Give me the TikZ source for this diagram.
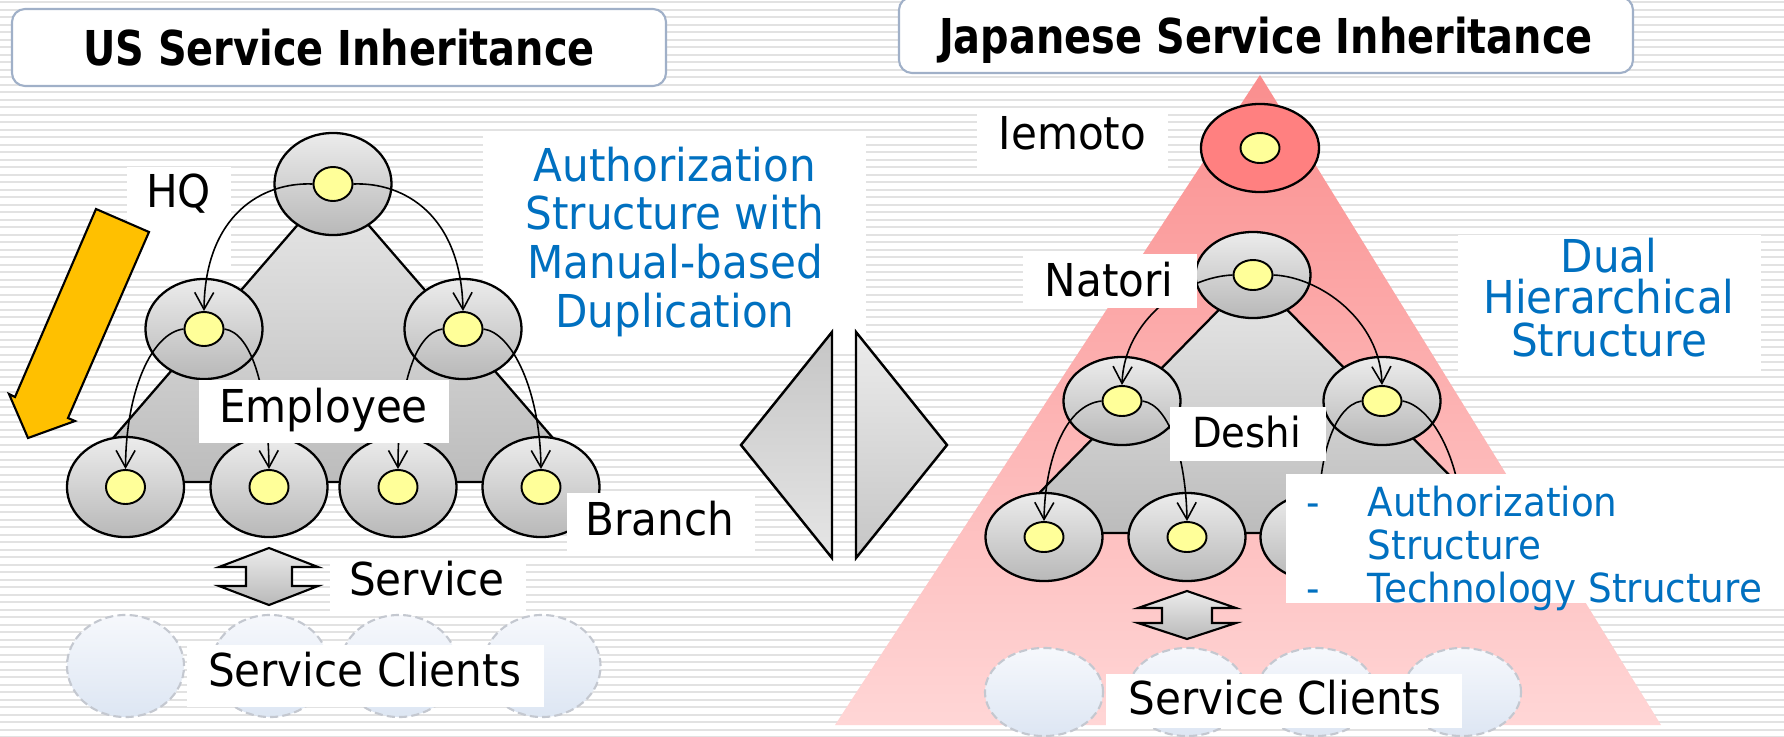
\documentclass[tikz,border=0pt]{standalone}
\usepackage{fontspec}
\setmainfont{DejaVu Sans}[FakeStretch=0.93]
\newfontfamily\headfont{DejaVu Sans}[FakeStretch=0.83]
\usetikzlibrary{shapes.geometric,arrows.meta}

\definecolor{stripegray}{RGB}{226,226,226}
\definecolor{titleedge}{RGB}{160,176,200}
\definecolor{dotyellow}{RGB}{255,255,153}
\definecolor{nodetop}{RGB}{236,236,236}
\definecolor{nodebot}{RGB}{184,184,184}
\definecolor{tritop}{RGB}{232,232,232}
\definecolor{tribot}{RGB}{188,188,188}
\definecolor{labelblue}{RGB}{0,112,192}
\definecolor{arrowgold}{RGB}{255,192,0}
\definecolor{pinktop}{RGB}{250,142,142}
\definecolor{pinkbot}{RGB}{255,214,214}
\definecolor{iemotored}{RGB}{255,128,128}
\definecolor{clienttop}{RGB}{246,248,252}
\definecolor{clientbot}{RGB}{221,230,243}
\definecolor{clientedge}{RGB}{196,200,208}

\tikzset{
  member/.style={ellipse, draw=black, line width=0.65pt, top color=nodetop,
    bottom color=nodebot, inner sep=0pt, minimum width=1.17cm, minimum height=1.0cm},
  lowmember/.style={member, minimum height=0.88cm},
  master/.style={ellipse, draw=black, line width=0.65pt, fill=iemotored,
    inner sep=0pt, minimum width=1.18cm, minimum height=0.88cm},
  core/.style={ellipse, draw=black, line width=0.55pt, fill=dotyellow,
    inner sep=0pt, minimum width=0.39cm, minimum height=0.34cm},
  lowcore/.style={core, minimum height=0.30cm},
  client/.style={ellipse, draw=clientedge, line width=0.6pt,
    dash pattern=on 2.3pt off 1.2pt, top color=clienttop, bottom color=clientbot,
    inner sep=0pt, minimum width=1.17cm, minimum height=1.02cm},
  lowclient/.style={client, minimum width=1.18cm, minimum height=0.88cm},
  inherit/.style={line width=0.45pt, -{Straight Barb[length=1.7mm, width=1.9mm]}},
  tree/.style={draw=black, line width=0.65pt, top color=tritop, bottom color=tribot},
  servicearrow/.style={draw=black, line width=0.6pt, top color=nodetop, bottom color=gray!55},
  halfleft/.style={draw=black, line width=0.7pt, top color=gray!45, bottom color=gray!20},
  halfright/.style={draw=black, line width=0.7pt, top color=gray!15, bottom color=gray!45},
  titlebox/.style={draw=titleedge, line width=0.6pt, fill=white, rounded corners=0.13cm},
  titleword/.style={inner sep=0pt, anchor=base,
    font=\headfont\bfseries\fontsize{13.66}{16}\selectfont},
  word/.style={inner sep=0pt, anchor=base, font=\fontsize{12.88}{15}\selectfont},
  blueword/.style={word, text=labelblue},
  smallblue/.style={inner sep=0pt, anchor=base west, text=labelblue,
    font=\fontsize{11.4}{13}\selectfont},
}

\begin{document}
\begin{tikzpicture}[x=0.01cm, y=-0.01cm]
\useasboundingbox (0,0) rectangle (1784,736);
\fill[white] (0,0) rectangle (1784,736);
% pinstripe background
\foreach \k in {0,...,98}
  \draw[draw=stripegray, line width=0.02cm] (0,{2+7.5*\k}) -- (1784,{2+7.5*\k});

% headings
\draw[titlebox] (12,9) rectangle (666,86);
\node[titleword] (ustitle) at (339,65) {US Service Inheritance};
\draw[titlebox] (899,-3) rectangle (1633,73);
\node[titleword] (jptitle) at (1266,53) {Japanese Service Inheritance};

% ---------------- US side ----------------
% plates lying behind the hierarchy
\fill[white] (127,167) rectangle (231,268);
\fill[white] (483,134) rectangle (866,350);

\draw[tree] (333,184) -- (75,482) -- (591,482) -- cycle;
\node[member, minimum height=1.02cm] (hq) at (333,184) {};
\node[member] (emL) at (204,329) {};
\node[member] (emR) at (463,329) {};
\node[member] (br1) at (125.5,487) {};
\node[member] (br2) at (269,487) {};
\node[member] (br3) at (398,487) {};
\node[member] (br4) at (541,487) {};
\foreach \n in {hq,emL,emR,br1,br2,br3,br4}
  \node[core] (\n c) at (\n.center) {};

\draw[inherit] (hqc.west) .. controls (262,182) and (205,215) .. (emLc.north);
\draw[inherit] (hqc.east) .. controls (404,182) and (461,215) .. (emRc.north);
\draw[inherit] (emLc.west) .. controls (152,333) and (126,390) .. (br1c.north);
\draw[inherit] (emLc.east) .. controls (252,333) and (268,390) .. (br2c.north);
\draw[inherit] (emRc.west) .. controls (414,333) and (398,390) .. (br3c.north);
\draw[inherit] (emRc.east) .. controls (512,333) and (540,390) .. (br4c.north);

% clients and service exchange
\node[client] (uscl1) at (125.5,666) {};
\node[client] (uscl2) at (270,666) {};
\node[client] (uscl3) at (399,666) {};
\node[client] (uscl4) at (542,666) {};
\draw[servicearrow] (269,548) -- (318,567) -- (292,567) -- (292,586) -- (318,586)
  -- (269,605) -- (219,586) -- (246,586) -- (246,567) -- (219,567) -- cycle;

% label plates in front
\fill[white] (199,380) rectangle (449,443);
\fill[white] (567,493) rectangle (755,553);
\fill[white] (330,558) rectangle (526,613);
\fill[white] (187,645) rectangle (544,707);

\node[word] (hqlabel) at (178.5,207) {HQ};
\node[word] (emplabel) at (323.5,422) {Employee};
\node[word] (brlabel) at (660,535) {Branch};
\node[word] (svlabel) at (427,595) {Service};
\node[word] (usclients) at (364.5,686) {Service Clients};
\node[blueword] (usnote1) at (675,181) {Authorization};
\node[blueword] (usnote2) at (675,229) {Structure with};
\node[blueword] (usnote3) at (675,278) {Manual-based};
\node[blueword] (usnote4) at (675,327) {Duplication};

% top-down flow arrow
\draw[fill=arrowgold, line width=0.6pt] (96,209) -- (149,232) -- (68,418) -- (75,421)
  -- (28,438) -- (9,394) -- (15,397) -- cycle;

% comparison marker
\draw[halfleft] (832,332) -- (741,445) -- (832,558) -- cycle;
\draw[halfright] (856,332) -- (947,445) -- (856,558) -- cycle;

% ---------------- Japanese side ----------------
\path[top color=pinktop, bottom color=pinkbot] (1260,75) -- (835,725) -- (1661,725) -- cycle;
\node[master] (iemoto) at (1260,148) {};
\node[lowcore] (iemotoc) at (iemoto.center) {};

\draw[tree] (1253,275) -- (1000,533) -- (1506,533) -- cycle;
\node[lowmember, minimum width=1.15cm, minimum height=0.86cm] (natori) at (1253,275) {};
\node[lowmember] (deL) at (1122,401) {};
\node[lowmember] (deR) at (1382,401) {};
\node[lowmember] (ds1) at (1044,537) {};
\node[lowmember] (ds2) at (1187,537) {};
\node[lowmember] (ds3) at (1319,537) {};
\node[lowmember] (ds4) at (1462,537) {};
\foreach \n in {natori,deL,deR,ds1,ds2,ds3,ds4}
  \node[lowcore] (\n c) at (\n.center) {};

\draw[inherit] (natoric.west) .. controls (1185,277) and (1124,320) .. (deLc.north);
\draw[inherit] (natoric.east) .. controls (1320,277) and (1380,320) .. (deRc.north);
\draw[inherit] (deLc.west) .. controls (1065,405) and (1045,460) .. (ds1c.north);
\draw[inherit] (deLc.east) .. controls (1170,405) and (1186,460) .. (ds2c.north);
\draw[inherit] (deRc.west) .. controls (1333,406) and (1318,460) .. (ds3c.north);
\draw[inherit] (deRc.east) .. controls (1432,406) and (1460,460) .. (ds4c.north);

\node[lowclient] (jpcl1) at (1044,692) {};
\node[lowclient] (jpcl2) at (1187,692) {};
\node[lowclient] (jpcl3) at (1316,692) {};
\node[lowclient] (jpcl4) at (1462,692) {};
\draw[servicearrow] (1187,591) -- (1236,608) -- (1212,608) -- (1212,623) -- (1236,623)
  -- (1187,639) -- (1138,623) -- (1162,623) -- (1162,608) -- (1138,608) -- cycle;

% label plates
\fill[white] (977,112) rectangle (1168,168);
\fill[white] (1023,254) rectangle (1197,308);
\fill[white] (1170,407) rectangle (1326,461);
\fill[white] (1458,235) rectangle (1761,376);
\fill[white] (1286,474) rectangle (1790,603);
\fill[white] (1106,674) rectangle (1462,728);

\node[word] (iemotolabel) at (1072.5,149) {Iemoto};
\node[word] (natorilabel) at (1109,296) {Natori};
\node[word, font=\fontsize{11.8}{14}\selectfont] (deshilabel) at (1246.5,447) {Deshi};
\node[word] (jpclients) at (1285,714) {Service Clients};
\node[blueword] (jpnote1) at (1609,272) {Dual};
\node[blueword] (jpnote2) at (1609,313) {Hierarchical};
\node[blueword] (jpnote3) at (1609,356) {Structure};
\node[smallblue] (dash1) at (1306,516) {-};
\node[smallblue] (item1a) at (1367,516) {Authorization};
\node[smallblue] (item1b) at (1367,559) {Structure};
\node[smallblue] (dash2) at (1306,602) {-};
\node[smallblue] (item2) at (1367,602) {Technology Structure};
\end{tikzpicture}
\end{document}
